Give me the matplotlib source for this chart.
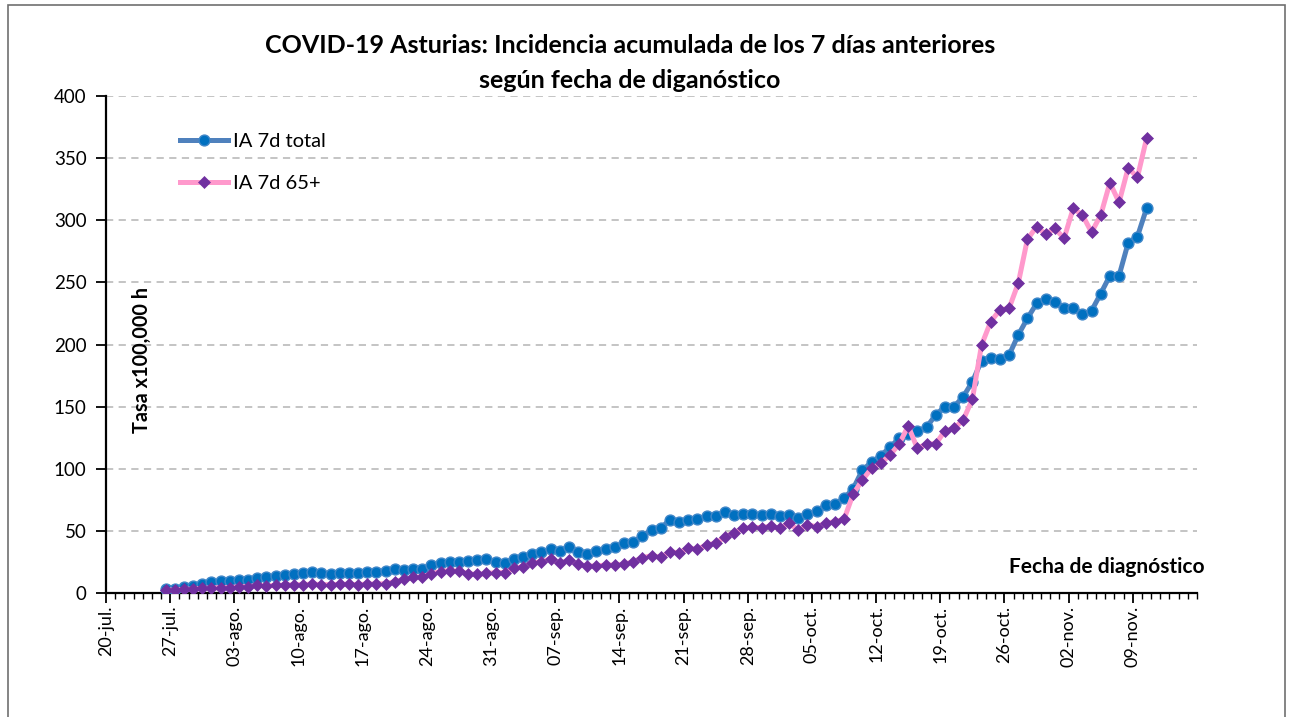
import matplotlib
matplotlib.use("Agg")
import matplotlib.pyplot as plt
import matplotlib.dates as mdates
import matplotlib.transforms as mtransforms
from matplotlib.patches import Rectangle
import pandas as pd

# ---------------- data ----------------
start_date = "2020-07-26"
ia_total = [3.0, 3.6, 4.6, 5.7, 7.5, 8.9, 9.7, 9.9, 10.2, 10.5,
            12.2, 12.8, 13.5, 14.5, 15.4, 16.2, 16.7, 15.8, 15.2, 15.8,
            15.8, 15.8, 16.6, 17.3, 17.8, 19.0, 18.9, 19.7, 19.2, 22.4,
            23.9, 25.2, 25.0, 26.1, 26.6, 27.1, 25.2, 24.4, 27.4, 29.0,
            31.1, 32.7, 35.4, 34.0, 36.8, 32.7, 31.1, 33.8, 35.4, 36.8,
            40.0, 40.8, 46.1, 50.7, 52.0, 59.0, 56.9, 58.8, 59.6, 62.0,
            62.0, 65.2, 62.8, 63.6, 63.6, 62.8, 63.3, 62.0, 62.8, 60.4,
            63.6, 65.7, 70.8, 71.6, 76.2, 84.0, 99.0, 105.2, 110.5, 117.2,
            124.5, 128.0, 130.0, 133.5, 143.3, 150.0, 150.0, 158.0, 170.0, 187.0,
            189.5, 188.5, 191.5, 207.6, 221.0, 233.0, 236.6, 234.5, 229.6, 229.6,
            224.5, 227.2, 241.0, 255.4, 255.4, 282.0, 286.8, 309.6]
ia_65 = [2.4, 2.4, 3.0, 3.2, 3.8, 4.0, 4.3, 4.3, 5.1, 5.1,
         6.2, 5.6, 6.2, 6.2, 6.7, 6.7, 7.2, 6.7, 6.7, 7.0,
         7.0, 6.7, 7.2, 7.2, 7.5, 9.1, 11.0, 12.5, 13.0, 15.5,
         17.3, 18.1, 17.6, 15.4, 14.9, 15.7, 16.3, 16.4, 19.9, 21.2,
         23.9, 25.2, 27.4, 23.9, 26.6, 23.1, 21.7, 21.7, 22.5, 22.5,
         23.1, 25.2, 28.4, 30.0, 28.8, 33.0, 32.4, 36.0, 35.2, 38.6,
         40.0, 45.3, 48.6, 52.0, 52.8, 52.6, 53.9, 52.0, 56.1, 50.7,
         54.7, 53.4, 56.1, 57.4, 59.3, 79.7, 91.0, 100.3, 104.4, 111.0,
         119.7, 134.4, 116.4, 120.0, 120.0, 130.4, 132.5, 139.2, 156.1, 199.6,
         218.4, 227.8, 229.1, 249.2, 284.6, 294.8, 288.7, 293.5, 285.4, 309.6,
         304.2, 290.3, 304.2, 330.2, 314.4, 342.3, 334.5, 365.9]
series_labels = ["IA 7d total", "IA 7d 65+"]
tick_dates = ["2020-07-20", "2020-07-27", "2020-08-03", "2020-08-10", "2020-08-17",
              "2020-08-24", "2020-08-31", "2020-09-07", "2020-09-14", "2020-09-21",
              "2020-09-28", "2020-10-05", "2020-10-12", "2020-10-19", "2020-10-26",
              "2020-11-02", "2020-11-09"]
tick_labels = ["20-jul.", "27-jul.", "03-ago.", "10-ago.", "17-ago.", "24-ago.",
               "31-ago.", "07-sep.", "14-sep.", "21-sep.", "28-sep.", "05-oct.",
               "12-oct.", "19-oct.", "26-oct.", "02-nov.", "09-nov."]
x_start, x_end = "2020-07-20", "2020-11-16"
title = "COVID-19 Asturias: Incidencia acumulada de los 7 días anteriores\nsegún fecha de diganóstico"
ylabel = "Tasa x100,000 h"
xlabel = "Fecha de diagnóstico"

# ---------------- figure ----------------
FONT = ["Lato", "DejaVu Sans"]
plt.rcParams["font.family"] = FONT

W, H = 1289, 717
fig = plt.figure(figsize=(W / 100, H / 100), dpi=100)
fig.patch.set_facecolor("white")

# outer frame
fig.patches.append(Rectangle((8 / W, -0.02), (1285 - 8) / W, 1.02 - 5 / H,
                             transform=fig.transFigure, fill=False,
                             edgecolor="#6f6f6f", linewidth=1.2))

L, R, T, B = 106, 1197, 96, 593
ax = fig.add_axes([L / W, 1 - B / H, (R - L) / W, (B - T) / H])

dates = pd.date_range(start_date, periods=len(ia_total), freq="D") + pd.Timedelta(hours=12)

ax.plot(dates, ia_total, color="#4F81BD", lw=3.6, marker="o", ms=7.8,
        mfc="#0070C0", mec="#3F86C8", mew=1.0, label=series_labels[0], zorder=3)
ax.plot(dates, ia_65, color="#FF99CC", lw=3.6, marker="D", ms=6.4,
        mfc="#7030A0", mec="#7030A0", mew=0.5, label=series_labels[1], zorder=4)

ax.set_xlim(pd.Timestamp(x_start), pd.Timestamp(x_end))
ax.set_ylim(0, 400)
ax.set_yticks(range(0, 401, 50))
ax.set_xticks(pd.to_datetime(tick_dates))
ax.set_xticklabels(tick_labels, rotation=90, fontsize=13)
ax.xaxis.set_minor_locator(mdates.DayLocator())
off = mtransforms.ScaledTranslation(8 / 100, 0, fig.dpi_scale_trans)
for lab in ax.get_xticklabels():
    lab.set_transform(lab.get_transform() + off)

ax.tick_params(axis="x", which="major", direction="out", length=7, width=1.3, pad=2)
ax.tick_params(axis="x", which="minor", direction="out", length=4, width=1.0)
ax.tick_params(axis="y", which="major", direction="out", length=7, width=1.3,
               labelsize=13.5, pad=7)

for s in ["top", "right"]:
    ax.spines[s].set_visible(False)
for s in ["left", "bottom"]:
    ax.spines[s].set_linewidth(1.6)
    ax.spines[s].set_color("black")

ax.yaxis.grid(True, color="#BFBFBF", linestyle=(0, (4, 3)), linewidth=1.3)
ax.set_axisbelow(True)

ax.legend(loc="upper left", bbox_to_anchor=(0.051, 0.963), frameon=False,
          fontsize=14.5, handlelength=2.4, labelspacing=1.25, handletextpad=0.25)

fig.text(630 / W, 1 - 63 / H, title, ha="center", va="center", fontsize=18,
         fontweight="bold", linespacing=1.62)
fig.text(142 / W, 1 - 360 / H, ylabel, rotation=90, ha="center", va="center",
         fontsize=14.3, fontweight="bold")
fig.text(1205 / W, 1 - 567 / H, xlabel, ha="right", va="center",
         fontsize=15, fontweight="bold")

fig.savefig("out.png", dpi=100, facecolor="white")
